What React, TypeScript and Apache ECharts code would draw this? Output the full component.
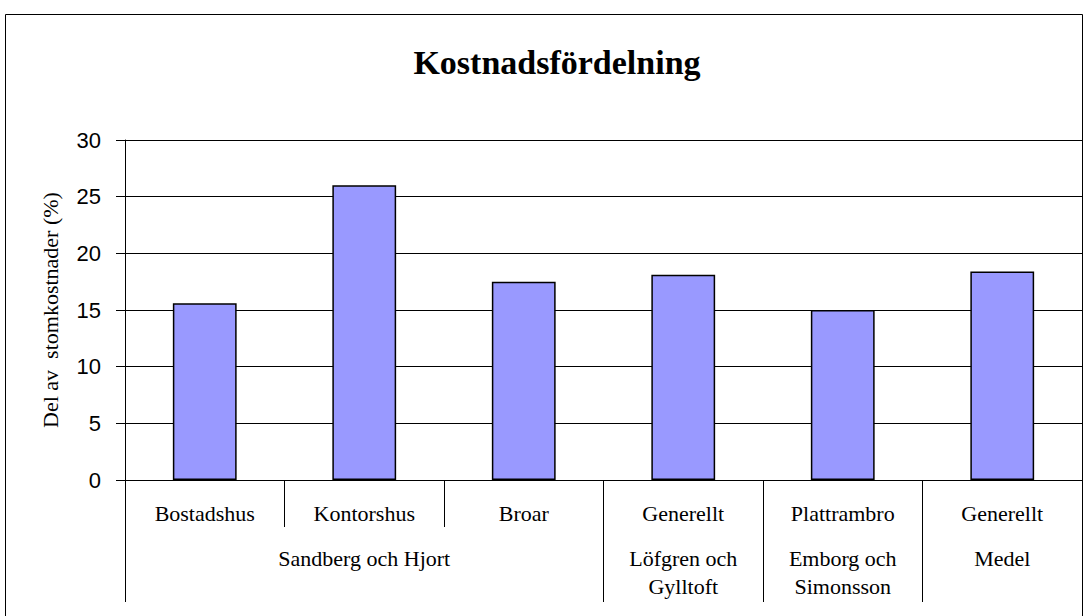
import React, { useEffect, useRef } from "react";
import * as echarts from "echarts";

const categories = ["Bostadshus", "Kontorshus", "Broar", "Generellt", "Plattrambro", "Generellt"];
const values = [15.6, 26.0, 17.5, 18.1, 15.0, 18.4];
const groupNames = ["Sandberg och Hjort", "Löfgren och\nGylltoft", "Emborg och\nSimonsson", "Medel"];
const groupCenters = [1.5, 3.5, 4.5, 5.5];
const groupBoundaries = [0, 3, 4, 5, 6];
const yTicks = { min: 0, max: 30, interval: 5 };
const titleText = "Kostnadsfördelning";
const yAxisName = "Del av  stomkostnader (%)";

const SERIF = "Liberation Serif";
const SANS = "Liberation Sans";

export default function App() {
  const ref = useRef<HTMLDivElement>(null);
  useEffect(() => {
    if (!ref.current) return;
    const chart = echarts.init(ref.current, null, { renderer: "svg" });
    chart.setOption({
      animation: false,
      backgroundColor: "#ffffff",
      graphic: [
        {
          type: "rect",
          shape: { x: 5.5, y: 14.5, width: 1077, height: 640 },
          style: { fill: "none", stroke: "#000", lineWidth: 1 },
          silent: true,
        },
        {
          type: "text",
          x: 557,
          y: 62,
          style: {
            text: titleText,
            fontFamily: SERIF,
            fontWeight: "bold",
            fontSize: 34,
            fill: "#000",
            textAlign: "center",
            textVerticalAlign: "middle",
          },
        },
      ],
      grid: { left: 125, right: 2, top: 140, bottom: 136, containLabel: false },
      xAxis: [
        {
          type: "category",
          data: categories,
          axisLine: { show: true, lineStyle: { color: "#000", width: 1 } },
          axisTick: { show: true, alignWithLabel: false, interval: 0, length: 47, lineStyle: { color: "#000", width: 1 } },
          axisLabel: {
            interval: 0,
            margin: 19,
            color: "#000",
            fontFamily: SERIF,
            fontSize: 22,
            lineHeight: 28,
          },
          splitLine: { show: false },
        },
        {
          type: "value",
          position: "bottom",
          min: 0,
          max: 6,
          axisLine: { show: false },
          splitLine: { show: false },
          axisTick: {
            show: true,
            customValues: groupBoundaries,
            length: 122,
            lineStyle: { color: "#000", width: 1 },
          },
          axisLabel: {
            show: true,
            customValues: groupCenters,
            formatter: (v: number) => {
              const i = groupCenters.indexOf(v);
              return i >= 0 ? groupNames[i] : "";
            },
            margin: 64,
            color: "#000",
            fontFamily: SERIF,
            fontSize: 22,
            lineHeight: 28,
            verticalAlign: "top",
          },
        },
      ],
      yAxis: {
        type: "value",
        min: yTicks.min,
        max: yTicks.max,
        interval: yTicks.interval,
        name: yAxisName,
        nameLocation: "middle",
        nameGap: 64,
        nameTextStyle: { color: "#000", fontFamily: SERIF, fontSize: 22 },
        axisLine: { show: true, lineStyle: { color: "#000", width: 1 } },
        axisTick: { show: true, length: 9, lineStyle: { color: "#000", width: 1 } },
        axisLabel: { color: "#000", fontFamily: SANS, fontSize: 22, margin: 24 },
        splitLine: { show: true, lineStyle: { color: "#000", width: 1 } },
      },
      series: [
        {
          type: "bar",
          xAxisIndex: 0,
          data: values,
          barWidth: "40%",
          itemStyle: { color: "#9999FF", borderColor: "#000", borderWidth: 1.5 },
        },
      ],
    });
    return () => chart.dispose();
  }, []);
  return <div ref={ref} style={{ position: "absolute", left: 0, top: 0, width: 1084, height: 616 }} />;
}
